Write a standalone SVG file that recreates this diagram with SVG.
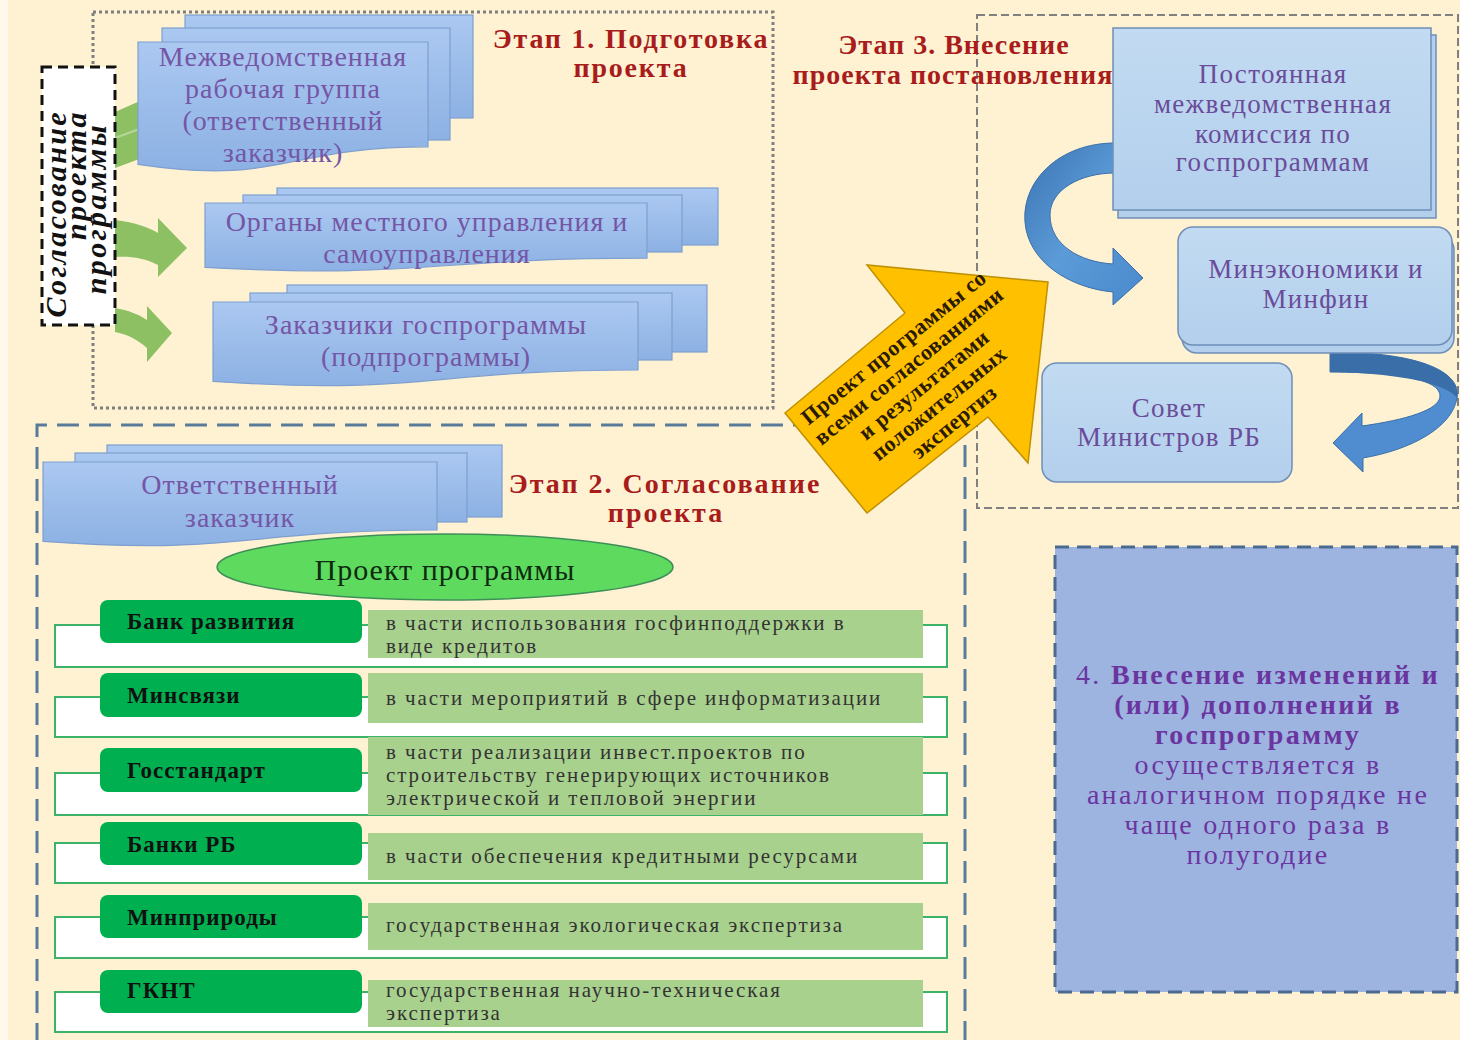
<svg xmlns="http://www.w3.org/2000/svg" width="1460" height="1040" viewBox="0 0 1460 1040">
<defs>
<style>
text{font-family:'Liberation Serif','Times New Roman',serif;}
.doc{fill:url(#gBlue);stroke:#7E9FCF;stroke-width:1.2;}
.pt{fill:#7556A6;font-size:28px;letter-spacing:1px;text-anchor:middle;}
.ttl{fill:#A81C1C;font-size:28px;font-weight:bold;text-anchor:middle;}
.s3box{fill:url(#gLight);stroke:#6F8FB8;stroke-width:1.5;}
.s3t{fill:#6A4C9A;font-size:27px;letter-spacing:1.3px;text-anchor:middle;}
.outer{fill:#FFFFFF;stroke:#3DB36A;stroke-width:2;}
.lab{fill:#00B050;}
.desc{fill:#A9D18E;}
.lt{fill:#111;font-size:23px;font-weight:bold;letter-spacing:1px;}
.dt{fill:#333;font-size:21px;letter-spacing:1.9px;}
.garr{fill:#8DC063;}
.s4{fill:#6B35A0;font-size:28px;letter-spacing:2.3px;text-anchor:middle;}
</style>
<linearGradient id="gBlue" x1="0" y1="0" x2="0" y2="1">
<stop offset="0" stop-color="#ABC8F1"/><stop offset="1" stop-color="#8CB1E3"/>
</linearGradient>
<linearGradient id="gLight" x1="0" y1="0" x2="0" y2="1">
<stop offset="0" stop-color="#C2DBF2"/><stop offset="1" stop-color="#B3CFEC"/>
</linearGradient>
<linearGradient id="gArr" x1="0" y1="0" x2="1" y2="1">
<stop offset="0" stop-color="#3C73B2"/><stop offset="0.5" stop-color="#5B9BD8"/><stop offset="1" stop-color="#4A89CC"/>
</linearGradient>
</defs>

<rect x="0" y="0" width="1460" height="1040" fill="#FEF2D2"/>
<rect x="0" y="0" width="8" height="1040" fill="#FFF9EC"/>

<!-- stage frames -->
<g id="stage1-frame"><rect x="93" y="12" width="680" height="396" fill="none" stroke="#7F7F7F" stroke-width="3" stroke-dasharray="3 3"/></g>
<g id="stage3-frame"><rect x="977" y="15" width="481" height="493" fill="none" stroke="#808080" stroke-width="2" stroke-dasharray="8 4"/></g>
<g id="stage2-frame"><path d="M37,1045 V425 H965 V1045" fill="none" stroke="#5A7A9A" stroke-width="3" stroke-dasharray="22 10"/></g>

<!-- Stage 1 -->
<g id="green-arrows">
<path class="garr" d="M115,112 L142,100 L142,158 L115,168 Z" fill="#7FA85E"/>
<path d="M115,138 L142,128" stroke="#B5D59A" stroke-width="2"/>
<path class="garr" d="M115,220 C135,222 150,228 158,233 L158,218 L187,248 L158,277 L158,265 C145,258 130,256 115,257 Z"/>
<path class="garr" d="M115,308 C128,310 140,315 147,320 L147,306 L172,333 L147,362 L147,348 C138,340 127,334 115,332 Z"/>
</g>

<g id="node-soglasovanie">
<rect x="42" y="67" width="73" height="258" fill="#FFFFFF" stroke="#111" stroke-width="3" stroke-dasharray="10 6"/>
<g font-style="italic" font-weight="bold" font-size="30" letter-spacing="2.4" fill="#111" text-anchor="end">
<text transform="translate(66,110) rotate(-90)">Согласование</text>
<text transform="translate(86,110) rotate(-90)">проекта</text>
<text transform="translate(106,123) rotate(-90)">программы</text>
</g>
</g>

<g id="node-mrg">
<rect class="doc" x="185" y="15" width="288" height="103"/>
<rect class="doc" x="162" y="28" width="288" height="112"/>
<path class="doc" d="M138,42 H428 V146.8 C283,146.8 283,186 138,164.4 Z"/>
<text class="pt" x="283" y="66">Межведомственная</text>
<text class="pt" x="283" y="98">рабочая группа</text>
<text class="pt" x="283" y="130">(ответственный</text>
<text class="pt" x="283" y="162">заказчик)</text>
</g>

<g id="node-organy">
<rect class="doc" x="277" y="188" width="441" height="57"/>
<rect class="doc" x="243" y="195" width="439" height="57"/>
<path class="doc" d="M205,203 H647 V258.2 C426,258.2 426,278.9 205,267.4 Z"/>
<text class="pt" x="427" y="231">Органы местного управления и</text>
<text class="pt" x="427" y="263">самоуправления</text>
</g>

<g id="node-zakazchiki">
<rect class="doc" x="287" y="285" width="420" height="67"/>
<rect class="doc" x="250" y="293" width="422" height="67"/>
<path class="doc" d="M213,302 H638 V370 C425,370 425,395.5 213,381.4 Z"/>
<text class="pt" x="426" y="334">Заказчики госпрограммы</text>
<text class="pt" x="426" y="366">(подпрограммы)</text>
</g>

<g id="title-stage1">
<text class="ttl" x="631" y="48" letter-spacing="1.8">Этап 1. Подготовка</text>
<text class="ttl" x="631" y="77" letter-spacing="1.8">проекта</text>
</g>

<!-- Stage 3 -->
<g id="title-stage3">
<text class="ttl" x="954" y="54" font-size="27" letter-spacing="1">Этап 3. Внесение</text>
<text class="ttl" x="953" y="84" font-size="27" letter-spacing="1">проекта постановления</text>
</g>

<g id="connectors">
<path d="M1115,143 C1060,143 1022,180 1025,222 C1028,262 1070,288 1113,292 L1113,305 L1143,278 L1113,248 L1113,264 C1080,262 1050,245 1050,215 C1050,190 1080,173 1115,173 Z" fill="url(#gArr)" stroke="#3A6EA8" stroke-width="1"/>
<path d="M1330,352 C1420,352 1462,372 1457,398 C1452,428 1410,450 1363,458 L1363,472 L1333,443 L1362,413 L1362,426 C1405,420 1440,410 1440,396 C1440,382 1410,372 1330,372 Z" fill="#4F8DD0" stroke="#3A6EA8" stroke-width="1"/>
<path d="M1330,352 C1420,352 1462,372 1457,398 C1450,388 1420,374 1330,372 Z" fill="#3A6EA8"/>
</g>

<g id="node-komissiya">
<rect x="1118" y="35" width="318" height="183" fill="#B3CFEC" stroke="#6F8FB8" stroke-width="1.5"/>
<rect class="s3box" x="1113" y="28" width="318" height="182"/>
<text class="s3t" x="1273" y="83">Постоянная</text>
<text class="s3t" x="1273" y="113">межведомственная</text>
<text class="s3t" x="1273" y="143">комиссия по</text>
<text class="s3t" x="1273" y="171">госпрограммам</text>
</g>

<g id="node-minek">
<rect x="1182" y="235" width="272" height="118" rx="15" fill="#B3CFEC" stroke="#6F8FB8" stroke-width="1.5"/>
<rect class="s3box" x="1178" y="227" width="274" height="118" rx="15"/>
<text class="s3t" x="1316" y="278">Минэкономики и</text>
<text class="s3t" x="1316" y="308">Минфин</text>
</g>

<g id="node-sovet">
<rect class="s3box" x="1042" y="363" width="250" height="119" rx="15"/>
<text class="s3t" x="1169" y="417">Совет</text>
<text class="s3t" x="1169" y="446">Министров РБ</text>
</g>

<!-- Stage 2 -->
<g id="node-otv">
<rect class="doc" x="107" y="445" width="395" height="72"/>
<rect class="doc" x="75" y="453" width="392" height="69"/>
<path class="doc" d="M43,462 H437 V530 C240,530 240,555.5 43,541.4 Z"/>
<text class="pt" x="240" y="494" font-size="34" letter-spacing="4">Ответственный</text>
<text class="pt" x="240" y="527" font-size="34" letter-spacing="4">заказчик</text>
</g>

<g id="title-stage2">
<text class="ttl" x="665" y="493" font-size="29" letter-spacing="2">Этап 2. Согласование</text>
<text class="ttl" x="666" y="522" font-size="29" letter-spacing="2">проекта</text>
</g>

<g id="node-proekt">
<ellipse cx="445" cy="567" rx="228" ry="33" fill="#5EDB5E" stroke="#3E8E5A" stroke-width="1.5"/>
<text x="445" y="580" font-size="30" letter-spacing="1" fill="#0E2A10" text-anchor="middle">Проект программы</text>
</g>

<g id="row-bank">
<rect class="outer" x="55" y="625" width="892" height="42"/>
<rect class="desc" x="368" y="610" width="555" height="48"/>
<rect class="lab" x="100" y="600" width="262" height="43" rx="8"/>
<text class="lt" x="127" y="629">Банк развития</text>
<text class="dt" x="386" y="630">в части использования госфинподдержки в</text>
<text class="dt" x="386" y="653">виде кредитов</text>
</g>
<g id="row-minsvyazi">
<rect class="outer" x="55" y="697" width="892" height="40"/>
<rect class="desc" x="368" y="673" width="555" height="50"/>
<rect class="lab" x="100" y="673" width="262" height="44" rx="8"/>
<text class="lt" x="127" y="703">Минсвязи</text>
<text class="dt" x="386" y="705">в части мероприятий в сфере информатизации</text>
</g>
<g id="row-gosstandart">
<rect class="outer" x="55" y="773" width="892" height="42"/>
<rect class="desc" x="368" y="737" width="555" height="78"/>
<rect class="lab" x="100" y="748" width="262" height="44" rx="8"/>
<text class="lt" x="127" y="778">Госстандарт</text>
<text class="dt" x="386" y="759">в части реализации инвест.проектов по</text>
<text class="dt" x="386" y="782">строительству генерирующих источников</text>
<text class="dt" x="386" y="805">электрической и тепловой энергии</text>
</g>
<g id="row-banki">
<rect class="outer" x="55" y="843" width="892" height="40" stroke-width="3"/>
<rect class="desc" x="368" y="833" width="555" height="47"/>
<rect class="lab" x="100" y="822" width="262" height="43" rx="8"/>
<text class="lt" x="127" y="852">Банки РБ</text>
<text class="dt" x="386" y="863">в части обеспечения кредитными ресурсами</text>
</g>
<g id="row-minprirody">
<rect class="outer" x="55" y="917" width="892" height="41"/>
<rect class="desc" x="368" y="903" width="555" height="47"/>
<rect class="lab" x="100" y="895" width="262" height="43" rx="8"/>
<text class="lt" x="127" y="925">Минприроды</text>
<text class="dt" x="386" y="932">государственная экологическая экспертиза</text>
</g>
<g id="row-gknt">
<rect class="outer" x="55" y="992" width="892" height="40"/>
<rect class="desc" x="368" y="980" width="555" height="47"/>
<rect class="lab" x="100" y="970" width="262" height="43" rx="8"/>
<text class="lt" x="127" y="998">ГКНТ</text>
<text class="dt" x="386" y="997">государственная научно-техническая</text>
<text class="dt" x="386" y="1020">экспертиза</text>
</g>

<!-- Yellow arrow -->
<g id="node-yellow-arrow">
<polygon points="1048,282 867,265 905,313 785,413 867,513 988,417 1028,463" fill="#FFC000" stroke="#BF9000" stroke-width="1.5"/>
<g transform="translate(924,385) rotate(-39)" font-size="22" font-weight="bold" letter-spacing="0.5" fill="#2A1A00" text-anchor="middle">
<text x="0" y="-41">Проект программы со</text>
<text x="0" y="-17">всеми согласованиями</text>
<text x="0" y="7">и результатами</text>
<text x="0" y="31">положительных</text>
<text x="0" y="55">экспертиз</text>
</g>
</g>

<!-- Stage 4 -->
<g id="node-stage4">
<rect x="1055" y="547" width="402" height="445" fill="#9DB3E0" stroke="#4A6A90" stroke-width="3" stroke-dasharray="14 8"/>
<text class="s4" x="1258" y="684"><tspan>4. </tspan><tspan font-weight="bold">Внесение изменений и</tspan></text>
<text class="s4" x="1258" y="714" font-weight="bold">(или) дополнений в</text>
<text class="s4" x="1258" y="744" font-weight="bold">госпрограмму</text>
<text class="s4" x="1258" y="774">осуществляется в</text>
<text class="s4" x="1258" y="804">аналогичном порядке не</text>
<text class="s4" x="1258" y="834">чаще одного раза в</text>
<text class="s4" x="1258" y="864">полугодие</text>
</g>
</svg>
